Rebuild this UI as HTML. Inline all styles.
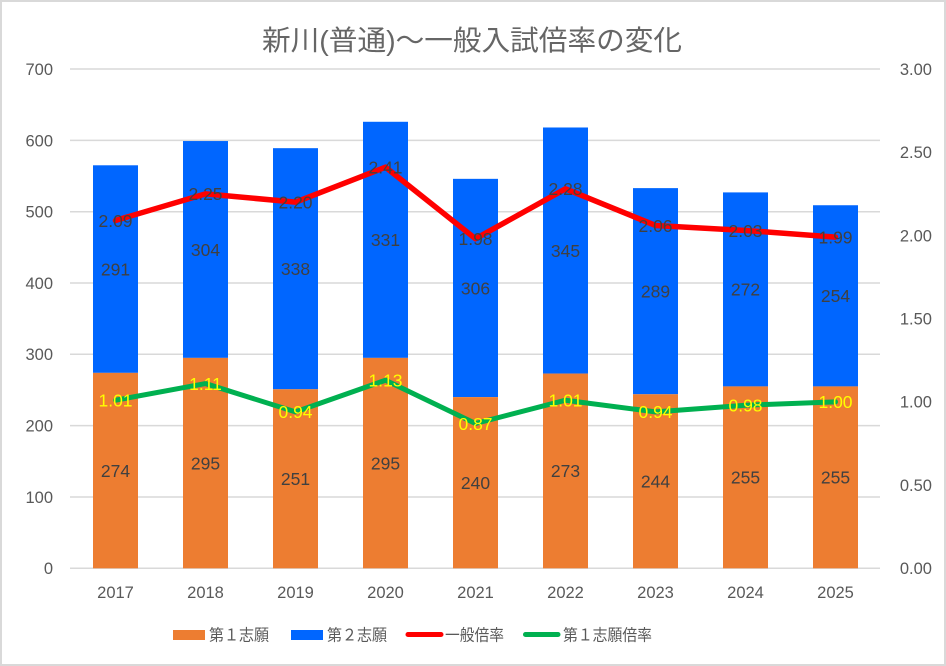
<!DOCTYPE html>
<html>
<head>
<meta charset="utf-8">
<style>
html,body{margin:0;padding:0;background:#fff;}
svg{display:block;}
.ax{font-family:"Liberation Sans",sans-serif;font-size:16.5px;fill:#595959;}
.dl{font-family:"Liberation Sans",sans-serif;font-size:17.5px;fill:#404040;text-anchor:middle;}
.yl{font-family:"Liberation Sans",sans-serif;font-size:17.5px;fill:#FFFF00;text-anchor:middle;}
.lg{font-family:"Liberation Sans","Noto Sans CJK JP",sans-serif;font-size:16px;fill:#595959;}
</style>
</head>
<body>
<svg width="946" height="666" viewBox="0 0 946 666" xmlns="http://www.w3.org/2000/svg">
<rect x="0" y="0" width="946" height="666" fill="#fff"/>
<rect x="1" y="1" width="944" height="664" fill="none" stroke="#d9d9d9" stroke-width="2"/>

<text x="472" y="50" text-anchor="middle" textLength="420" lengthAdjust="spacingAndGlyphs" style="font-family:'Liberation Sans','Noto Sans CJK JP',sans-serif;font-size:28px;fill:#666;">新川(普通)～一般入試倍率の変化</text>

<g stroke="#d9d9d9" stroke-width="1.5">
<line x1="70" y1="69" x2="880" y2="69"/>
<line x1="70" y1="140.4" x2="880" y2="140.4"/>
<line x1="70" y1="211.7" x2="880" y2="211.7"/>
<line x1="70" y1="283" x2="880" y2="283"/>
<line x1="70" y1="354.3" x2="880" y2="354.3"/>
<line x1="70" y1="425.6" x2="880" y2="425.6"/>
<line x1="70" y1="497" x2="880" y2="497"/>
<line x1="70" y1="568.3" x2="880" y2="568.3"/>
</g>

<g class="ax" text-anchor="end">
<text x="53" y="75">700</text>
<text x="53" y="146.3">600</text>
<text x="53" y="217.6">500</text>
<text x="53" y="288.9">400</text>
<text x="53" y="360.2">300</text>
<text x="53" y="431.5">200</text>
<text x="53" y="502.9">100</text>
<text x="53" y="574.2">0</text>
</g>
<g class="ax" text-anchor="end">
<text x="932" y="75">3.00</text>
<text x="932" y="158.1">2.50</text>
<text x="932" y="241.3">2.00</text>
<text x="932" y="324.5">1.50</text>
<text x="932" y="407.7">1.00</text>
<text x="932" y="490.9">0.50</text>
<text x="932" y="574.2">0.00</text>
</g>
<g class="ax" text-anchor="middle">
<text x="115.5" y="598">2017</text>
<text x="205.5" y="598">2018</text>
<text x="295.5" y="598">2019</text>
<text x="385.5" y="598">2020</text>
<text x="475.5" y="598">2021</text>
<text x="565.5" y="598">2022</text>
<text x="655.5" y="598">2023</text>
<text x="745.5" y="598">2024</text>
<text x="835.5" y="598">2025</text>
</g>

<!-- blue (top segments) -->
<g fill="#0066FF">
<rect x="93" y="165.29" width="45" height="207.57"/>
<rect x="183" y="141.04" width="45" height="216.84"/>
<rect x="273" y="148.17" width="45" height="241.09"/>
<rect x="363" y="121.78" width="45" height="236.1"/>
<rect x="453" y="178.84" width="45" height="218.27"/>
<rect x="543" y="127.49" width="45" height="246.08"/>
<rect x="633" y="188.12" width="45" height="206.14"/>
<rect x="723" y="192.4" width="45" height="194.01"/>
<rect x="813" y="205.24" width="45" height="181.17"/>
</g>
<!-- orange -->
<g fill="#ED7D31">
<rect x="93" y="372.86" width="45" height="195.44"/>
<rect x="183" y="357.88" width="45" height="210.42"/>
<rect x="273" y="389.26" width="45" height="179.04"/>
<rect x="363" y="357.88" width="45" height="210.42"/>
<rect x="453" y="397.11" width="45" height="171.19"/>
<rect x="543" y="373.57" width="45" height="194.73"/>
<rect x="633" y="394.26" width="45" height="174.04"/>
<rect x="723" y="386.41" width="45" height="181.89"/>
<rect x="813" y="386.41" width="45" height="181.89"/>
</g>

<polyline fill="none" stroke="#FF0000" stroke-width="5.5" stroke-linejoin="round" stroke-linecap="round"
 points="115.5,220.46 205.5,193.83 295.5,202.15 385.5,167.2 475.5,238.77 565.5,188.84 655.5,225.45 745.5,230.45 835.5,237.1"/>
<polyline fill="none" stroke="#00B050" stroke-width="5" stroke-linejoin="round" stroke-linecap="round"
 points="115.5,400.21 205.5,383.56 295.5,411.86 385.5,380.23 475.5,423.51 565.5,400.21 655.5,411.86 745.5,405.2 835.5,401.87"/>

<!-- orange labels -->
<g class="dl">
<text x="115.5" y="476.9">274</text>
<text x="205.5" y="469.4">295</text>
<text x="295.5" y="485.1">251</text>
<text x="385.5" y="469.4">295</text>
<text x="475.5" y="489">240</text>
<text x="565.5" y="477.2">273</text>
<text x="655.5" y="487.6">244</text>
<text x="745.5" y="483.7">255</text>
<text x="835.5" y="483.7">255</text>
</g>
<!-- blue labels -->
<g class="dl">
<text x="115.5" y="275.4">291</text>
<text x="205.5" y="255.8">304</text>
<text x="295.5" y="275">338</text>
<text x="385.5" y="246.1">331</text>
<text x="475.5" y="294.3">306</text>
<text x="565.5" y="256.8">345</text>
<text x="655.5" y="297.5">289</text>
<text x="745.5" y="295.7">272</text>
<text x="835.5" y="302.1">254</text>
</g>
<!-- red labels -->
<g class="dl">
<text x="115.5" y="226.8">2.09</text>
<text x="205.5" y="200.1">2.25</text>
<text x="295.5" y="208.5">2.20</text>
<text x="385.5" y="173.5">2.41</text>
<text x="475.5" y="245.1">1.98</text>
<text x="565.5" y="195.1">2.28</text>
<text x="655.5" y="231.8">2.06</text>
<text x="745.5" y="236.8">2.03</text>
<text x="835.5" y="243.4">1.99</text>
</g>
<!-- green labels -->
<g class="yl">
<text x="115.5" y="406.5">1.01</text>
<text x="205.5" y="389.9">1.11</text>
<text x="295.5" y="418.2">0.94</text>
<text x="385.5" y="386.5">1.13</text>
<text x="475.5" y="429.8">0.87</text>
<text x="565.5" y="406.5">1.01</text>
<text x="655.5" y="418.2">0.94</text>
<text x="745.5" y="411.5">0.98</text>
<text x="835.5" y="408.2">1.00</text>
</g>

<!-- legend -->
<rect x="173" y="630" width="32" height="10" fill="#ED7D31"/>
<text class="lg" x="209" y="640.5" textLength="60" lengthAdjust="spacingAndGlyphs">第１志願</text>
<rect x="291" y="630" width="32" height="10" fill="#0066FF"/>
<text class="lg" x="327" y="640.5" textLength="60" lengthAdjust="spacingAndGlyphs">第２志願</text>
<line x1="408" y1="634.5" x2="441" y2="634.5" stroke="#FF0000" stroke-width="5" stroke-linecap="round"/>
<text class="lg" x="445" y="640.5" textLength="59" lengthAdjust="spacingAndGlyphs">一般倍率</text>
<line x1="525.5" y1="634.5" x2="558" y2="634.5" stroke="#00B050" stroke-width="5" stroke-linecap="round"/>
<text class="lg" x="563" y="640.5" textLength="89" lengthAdjust="spacingAndGlyphs">第１志願倍率</text>
</svg>
</body>
</html>
